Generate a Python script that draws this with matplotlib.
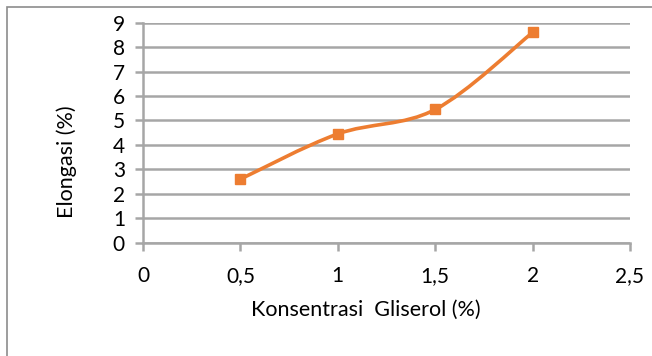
import matplotlib.pyplot as plt
import numpy as np
from matplotlib.path import Path
from matplotlib.patches import PathPatch, Rectangle

# Glycerol concentration vs elongation
konsentrasi = [0.5, 1.0, 1.5, 2.0]
elongasi = [2.6, 4.45, 5.45, 8.6]

x_ticks = [0, 0.5, 1, 1.5, 2, 2.5]
x_labels = ['0', '0,5', '1', '1,5', '2', '2,5']
y_ticks = list(range(10))

orange = '#ED7D31'
grid_gray = '#A6A6A6'

plt.rcParams['font.family'] = ['Lato', 'DejaVu Sans']

fig = plt.figure(figsize=(6.52, 3.56), dpi=100)
ax = fig.add_axes([143 / 652, 1 - 242.7 / 356, (630 - 143) / 652, (242.7 - 22.7) / 356])

# chart frame (cut off at right and bottom)
fig.patches.append(Rectangle((7 / 652, -0.1), 1.2, 1 - 7 / 356 + 0.1, transform=fig.transFigure,
                             fill=False, edgecolor='#8C8C8C', linewidth=1.2))

ax.set_xlim(0, 2.5)
ax.set_ylim(0, 9)

# smoothed line: cubic Bezier segments through the points (Catmull-Rom style)
pts = np.column_stack([konsentrasi, elongasi])
n = len(pts)
verts = [tuple(pts[0])]
codes = [Path.MOVETO]
for i in range(n - 1):
    p0 = pts[max(i - 1, 0)]
    p1 = pts[i]
    p2 = pts[i + 1]
    p3 = pts[min(i + 2, n - 1)]
    c1 = p1 + (p2 - p0) / 6
    c2 = p2 - (p3 - p1) / 6
    verts += [tuple(c1), tuple(c2), tuple(p2)]
    codes += [Path.CURVE4] * 3
ax.add_patch(PathPatch(Path(verts, codes), facecolor='none', edgecolor=orange,
                       linewidth=2.6, capstyle='round', zorder=3))
ax.plot(konsentrasi, elongasi, linestyle='none', marker='s', markersize=7,
        color=orange, zorder=4)

ax.set_yticks(y_ticks)
ax.set_xticks(x_ticks)
ax.set_xticklabels(x_labels)
ax.grid(axis='y', color=grid_gray, linewidth=1.8)
ax.set_axisbelow(True)

for side in ['top', 'right']:
    ax.spines[side].set_visible(False)
for side in ['left', 'bottom']:
    ax.spines[side].set_color(grid_gray)
    ax.spines[side].set_linewidth(1.8)

ax.tick_params(axis='y', length=6, width=1.8, color=grid_gray, labelsize=15, pad=7)
ax.tick_params(axis='x', length=6, width=1.8, color=grid_gray, labelsize=15, pad=11)

ax.set_xlabel('Konsentrasi  Gliserol (%)', fontsize=15.5, va='center')
ax.set_ylabel('Elongasi (%)', fontsize=15.5, va='center')
ax.xaxis.set_label_coords(0.458, -0.306)
ax.yaxis.set_label_coords(-0.156, 0.367)

plt.savefig('out.png', dpi=100)
